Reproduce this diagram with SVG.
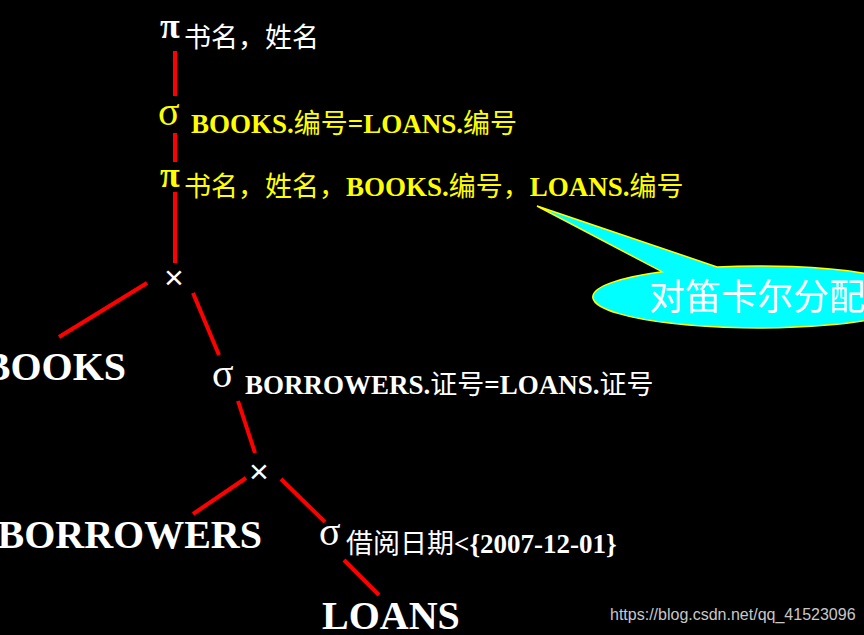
<svg xmlns="http://www.w3.org/2000/svg" width="864" height="635" viewBox="0 0 864 635">
<style>
.t{font-family:"Liberation Serif","Noto Sans CJK SC",serif;font-size:27px;font-weight:bold}
.c{font-family:"Noto Sans CJK SC","Liberation Serif",sans-serif;font-weight:normal}
.y{fill:#FFFF00}
.w{fill:#FFFFFF}
.op{font-family:"Liberation Serif",serif;font-size:40px}
.pi{font-family:"Liberation Serif",serif;font-size:36px;font-weight:bold}
.x{font-family:"Liberation Sans",sans-serif;font-size:34px;fill:#FFFFFF;text-anchor:middle}
.rel{font-family:"Liberation Serif",serif;font-size:40px;font-weight:bold;fill:#FFFFFF}
.e{stroke:#FF0000;stroke-width:4;fill:none}
.cl{font-family:"Noto Sans CJK SC",sans-serif;font-size:36px;fill:#FFFFFF}
.wm{font-family:"Liberation Sans",sans-serif;font-size:16px;fill:#C8C8C8}
</style>
<rect x="0" y="0" width="864" height="635" fill="#000000"/>
<g id="connectors">
<line class="e" x1="175" y1="51" x2="175" y2="96"/>
<line class="e" x1="175" y1="133" x2="175" y2="162"/>
<line class="e" x1="175" y1="192" x2="175" y2="263"/>
<line class="e" x1="147" y1="283" x2="59" y2="337"/>
<line class="e" x1="193" y1="293" x2="219" y2="355"/>
<line class="e" x1="238" y1="401" x2="255" y2="453"/>
<line class="e" x1="246" y1="478" x2="193" y2="514"/>
<line class="e" x1="281" y1="479" x2="325" y2="522"/>
<line class="e" x1="344" y1="560" x2="379" y2="595"/>
</g>
<g id="proj-top">
<text class="pi w" x="160" y="38">π</text>
<text class="t w" x="184" y="47"><tspan class="c">书名，姓名</tspan></text>
</g>
<g id="select-books-loans">
<text class="op y" x="158" y="125">σ</text>
<text class="t y" x="191" y="133">BOOKS.<tspan class="c">编号</tspan>=LOANS.<tspan class="c">编号</tspan></text>
</g>
<g id="proj-inner">
<text class="pi y" x="160" y="187">π</text>
<text class="t y" x="184" y="196"><tspan class="c">书名，姓名，</tspan>BOOKS.<tspan class="c">编号，</tspan>LOANS.<tspan class="c">编号</tspan></text>
</g>
<g id="product-1">
<text class="x" x="174" y="289">×</text>
</g>
<g id="books">
<text class="rel" x="126" y="380" text-anchor="end">BOOKS</text>
</g>
<g id="select-borrowers-loans">
<text class="op w" x="212" y="387">σ</text>
<text class="t w" x="245" y="394">BORROWERS.<tspan class="c">证号</tspan>=LOANS.<tspan class="c">证号</tspan></text>
</g>
<g id="product-2">
<text class="x" x="259" y="483">×</text>
</g>
<g id="borrowers">
<text class="rel" x="262" y="548" text-anchor="end">BORROWERS</text>
</g>
<g id="select-date">
<text class="op w" x="319" y="545">σ</text>
<text class="t w" x="346" y="553"><tspan class="c">借阅日期</tspan>&lt;{2007-12-01}</text>
</g>
<g id="loans">
<text class="rel" x="322" y="629" font-size="41">LOANS</text>
</g>
<g id="callout">
<path d="M537,206 L717,266.9 A165,31 0 1 1 662,271.7 Z" fill="#00FFFF" stroke="#FFFF00" stroke-width="1.5"/>
<text class="cl" x="649" y="310">对笛卡尔分配</text>
</g>
<text class="wm" x="610" y="620">https://blog.csdn.net/qq_41523096</text>
</svg>
